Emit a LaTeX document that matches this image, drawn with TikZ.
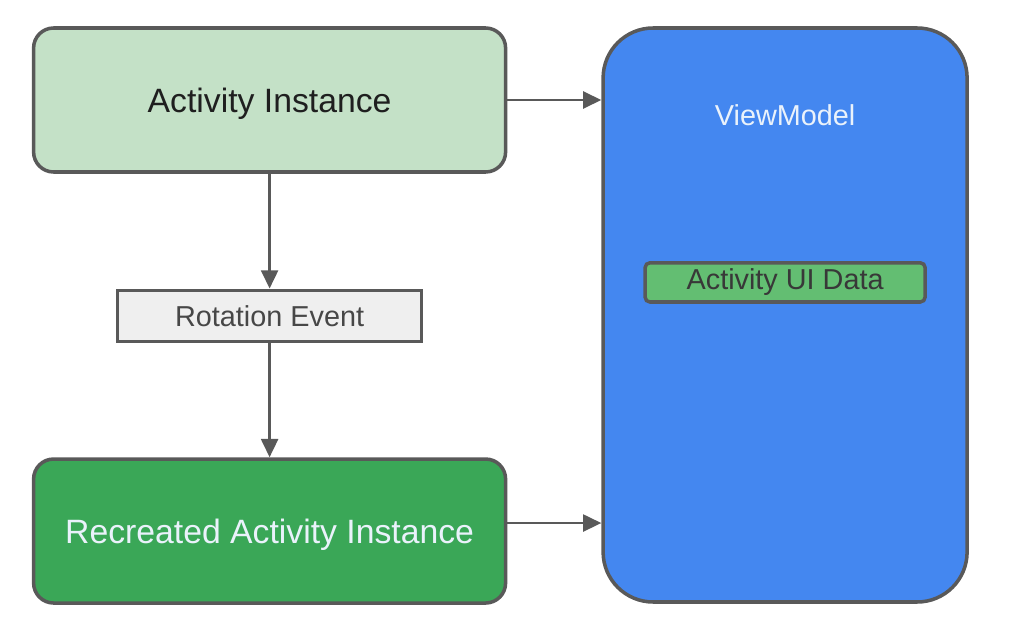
\documentclass[tikz,border=0pt]{standalone}
\usepackage{fontspec}
\setmainfont{Liberation Sans}
\usepackage{xcolor}
\usepackage{tikz}
\usetikzlibrary{shapes.geometric, arrows.meta, positioning}
\definecolor{edgegray}{HTML}{595959}
\definecolor{actfill}{HTML}{C4E1C7}
\definecolor{recfill}{HTML}{3AA757}
\definecolor{vmfill}{HTML}{4487F0}
\definecolor{uifill}{HTML}{63BE72}
\definecolor{rotfill}{HTML}{EFEFEF}
\definecolor{lighttext}{HTML}{EAF2FB}
\tikzstyle{activity} = [rectangle, rounded corners=0.5cm, minimum width=11.8cm, minimum height=3.6cm, text centered, text depth=0pt, draw=edgegray, line width=2.5pt, fill=actfill, text=black!88, font=\fontsize{24}{28}\selectfont]
\tikzstyle{recreated} = [activity, fill=recfill, text=lighttext]
\tikzstyle{event} = [rectangle, minimum width=7.6cm, minimum height=1.28cm, text centered, draw=edgegray, line width=2.5pt, fill=rotfill, text=black!72, font=\fontsize{20.5}{24}\selectfont]
\tikzstyle{viewmodel} = [rectangle, rounded corners=1.25cm, minimum width=9.1cm, minimum height=14.35cm, draw=edgegray, line width=2.5pt, fill=vmfill]
\tikzstyle{uidata} = [rectangle, rounded corners=0.12cm, minimum width=7cm, minimum height=0.98cm, text centered, draw=edgegray, line width=2.5pt, fill=uifill, text=black!78, font=\fontsize{20.5}{24}\selectfont]
\tikzstyle{arrow} = [draw=edgegray, line width=2pt, -{Triangle[length=13pt, width=12pt]}]

\begin{document}
\begin{tikzpicture}
			\useasboundingbox (0,0) rectangle (25.3,-15.85);
			\node (act) [activity] at (6.74,-2.5) {Activity Instance};
			\node (rot) [event, below=2.87cm of act] {Rotation Event};
			\node (rec) [recreated, below=2.85cm of rot] {Recreated Activity Instance};
			\node (vm) [viewmodel, below right=0cm and 2.35cm of act.north east] {};
			\node (vmname) [text=lighttext, font=\fontsize{20.5}{24}\selectfont] at ([yshift=-2.22cm]vm.north) {ViewModel};
			\node (ui) [uidata, below=5.87cm of vm.north] {Activity UI Data};

			\draw [arrow] (act.east) -- (act.east -| vm.west);
			\draw [arrow] ([yshift=0.2cm]rec.east) -- ([yshift=0.2cm]rec.east -| vm.west);
			\draw [arrow] (act) -- (rot);
			\draw [arrow] (rot) -- (rec);
		\end{tikzpicture}
\end{document}
